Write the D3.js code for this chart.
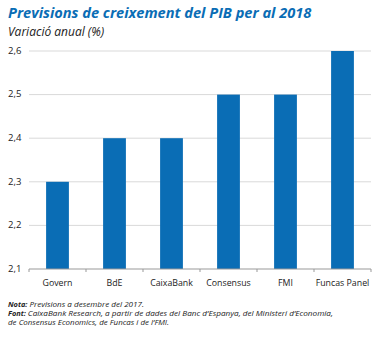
<!DOCTYPE html>
<html>
<head>
<meta charset="utf-8">
<script src="https://cdn.jsdelivr.net/npm/d3@7"></script>
<style>
  body { margin: 0; background: #fff; }
  text { font-family: "Open Sans", sans-serif; }
</style>
</head>
<body>
<div id="chart"></div>
<script>
let categories = ["Govern", "BdE", "CaixaBank", "Consensus", "FMI", "Funcas Panel"];
let values = [2.3, 2.4, 2.4, 2.5, 2.5, 2.6];
let yTicks = [2.1, 2.2, 2.3, 2.4, 2.5, 2.6];

let W = 380, H = 338;
let margin = { top: 51, right: 9, bottom: 69, left: 29 },
    width = W - margin.left - margin.right,
    height = H - margin.top - margin.bottom;

let blue = "#0a6db5";

let svg = d3.select("#chart").append("svg")
    .attr("width", W)
    .attr("height", H);

// title and subtitle
svg.append("text")
    .attr("x", 8).attr("y", 18)
    .style("font-size", "14.6px")
    .style("font-weight", "bold")
    .style("font-style", "italic")
    .attr("fill", blue)
    .text("Previsions de creixement del PIB per al 2018");

svg.append("text")
    .attr("x", 8).attr("y", 36)
    .style("font-size", "12px")
    .style("font-style", "italic")
    .attr("fill", "#222")
    .text("Variació anual (%)");

let g = svg.append("g")
    .attr("transform", "translate(" + margin.left + "," + margin.top + ")");

let x = d3.scaleBand()
    .domain(categories)
    .range([0, width])
    .paddingInner(0.6)
    .paddingOuter(0.3);

let y = d3.scaleLinear()
    .domain([2.1, 2.6])
    .range([height, 0]);

let fmt = d3.format(".1f");
let comma = function(d) { return fmt(d).replace(".", ","); };

// gridlines
g.selectAll(".grid")
    .data(yTicks.slice(1))
    .enter()
    .append("line")
    .attr("x1", 0).attr("x2", width)
    .attr("y1", function(d) { return y(d); })
    .attr("y2", function(d) { return y(d); })
    .attr("stroke", "#d9d9d9")
    .attr("stroke-width", 1);

// y labels
g.selectAll(".ylab")
    .data(yTicks)
    .enter()
    .append("text")
    .attr("x", -21)
    .attr("y", function(d) { return y(d); })
    .attr("dy", "0.3em")
    .style("font-size", "9.5px")
    .attr("fill", "#222")
    .text(comma);

// bars
g.selectAll(".bar")
    .data(values)
    .enter()
    .append("rect")
    .attr("x", function(d, i) { return x(categories[i]); })
    .attr("width", x.bandwidth())
    .attr("y", function(d) { return y(d); })
    .attr("height", function(d) { return height - y(d); })
    .attr("fill", blue);

// x axis line + ticks between categories
g.append("line")
    .attr("x1", 0).attr("x2", width)
    .attr("y1", height).attr("y2", height)
    .attr("stroke", "#999");

g.selectAll(".xtick")
    .data(d3.range(categories.length + 1))
    .enter()
    .append("line")
    .attr("x1", function(i) { return i * x.step(); })
    .attr("x2", function(i) { return i * x.step(); })
    .attr("y1", height).attr("y2", height + 3)
    .attr("stroke", "#999");

g.selectAll(".xlab")
    .data(categories)
    .enter()
    .append("text")
    .attr("x", function(d) { return x(d) + x.bandwidth() / 2; })
    .attr("y", height + 17)
    .attr("text-anchor", "middle")
    .style("font-size", "8.8px")
    .attr("fill", "#222")
    .text(function(d) { return d; });

// notes: bold label + italic text, squeezed to the reference widths
let notes = svg.append("g")
    .style("font-family", "'Liberation Sans', sans-serif")
    .style("font-size", "7.4px")
    .style("font-style", "italic")
    .attr("fill", "#222");
function noteLine(yPos, label, body, endX) {
    let start = 8;
    if (label) {
        let lab = notes.append("text").attr("x", 8).attr("y", yPos)
            .style("font-weight", "bold").text(label);
        start = 8 + lab.node().getComputedTextLength() + 2;
    }
    notes.append("text").attr("x", start).attr("y", yPos)
        .attr("textLength", endX - start)
        .attr("lengthAdjust", "spacingAndGlyphs")
        .text(body);
}
noteLine(306.5, "Nota:", "Previsions a desembre del 2017.", 144);
noteLine(315.5, "Font:", "CaixaBank Research, a partir de dades del Banc d’Espanya, del Ministeri d’Economia,", 333);
noteLine(324.5, null, "de Consensus Economics, de Funcas i de l’FMI.", 169);
</script>
</body>
</html>
